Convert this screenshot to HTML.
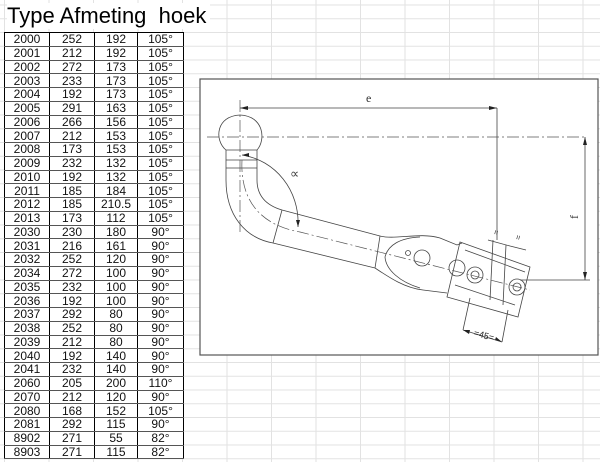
<!DOCTYPE html>
<html><head><style>
body{margin:0;width:600px;height:462px;overflow:hidden;background:#fff;font-family:"Liberation Sans",sans-serif;position:relative}
.grid{position:absolute;left:0;top:0;width:600px;height:462px;
background-image:linear-gradient(to right,#e2e2e2 1px,transparent 1px),linear-gradient(to bottom,#e2e2e2 1px,transparent 1px);
background-size:44.5px 13.75px;background-position:4px 4.5px}
h1{position:absolute;left:7px;top:3px;margin:0;font-weight:normal;font-size:22px;white-space:pre;background:#fff;padding-right:4px}
table{position:absolute;left:4px;top:32px;border-collapse:collapse;background:#fff;border:1.5px solid #000}
td{height:12.75px;padding:0;font-size:12px;text-align:center;border-bottom:1px solid #555;line-height:12px;color:#111}
td:nth-child(1){width:44px;border-right:1.5px solid #000}
td:nth-child(2){width:44px;border-right:1.5px solid #000}
td:nth-child(3){width:42px;border-right:1.5px solid #000}
td:nth-child(4){width:45px}
svg{position:absolute;left:0;top:0}
</style></head><body>
<div class="grid"></div>
<h1>Type Afmeting  hoek</h1>
<table>
<tr><td>2000</td><td>252</td><td>192</td><td>105°</td></tr>
<tr><td>2001</td><td>212</td><td>192</td><td>105°</td></tr>
<tr><td>2002</td><td>272</td><td>173</td><td>105°</td></tr>
<tr><td>2003</td><td>233</td><td>173</td><td>105°</td></tr>
<tr><td>2004</td><td>192</td><td>173</td><td>105°</td></tr>
<tr><td>2005</td><td>291</td><td>163</td><td>105°</td></tr>
<tr><td>2006</td><td>266</td><td>156</td><td>105°</td></tr>
<tr><td>2007</td><td>212</td><td>153</td><td>105°</td></tr>
<tr><td>2008</td><td>173</td><td>153</td><td>105°</td></tr>
<tr><td>2009</td><td>232</td><td>132</td><td>105°</td></tr>
<tr><td>2010</td><td>192</td><td>132</td><td>105°</td></tr>
<tr><td>2011</td><td>185</td><td>184</td><td>105°</td></tr>
<tr><td>2012</td><td>185</td><td>210.5</td><td>105°</td></tr>
<tr><td>2013</td><td>173</td><td>112</td><td>105°</td></tr>
<tr><td>2030</td><td>230</td><td>180</td><td>90°</td></tr>
<tr><td>2031</td><td>216</td><td>161</td><td>90°</td></tr>
<tr><td>2032</td><td>252</td><td>120</td><td>90°</td></tr>
<tr><td>2034</td><td>272</td><td>100</td><td>90°</td></tr>
<tr><td>2035</td><td>232</td><td>100</td><td>90°</td></tr>
<tr><td>2036</td><td>192</td><td>100</td><td>90°</td></tr>
<tr><td>2037</td><td>292</td><td>80</td><td>90°</td></tr>
<tr><td>2038</td><td>252</td><td>80</td><td>90°</td></tr>
<tr><td>2039</td><td>212</td><td>80</td><td>90°</td></tr>
<tr><td>2040</td><td>192</td><td>140</td><td>90°</td></tr>
<tr><td>2041</td><td>232</td><td>140</td><td>90°</td></tr>
<tr><td>2060</td><td>205</td><td>200</td><td>110°</td></tr>
<tr><td>2070</td><td>212</td><td>120</td><td>90°</td></tr>
<tr><td>2080</td><td>168</td><td>152</td><td>105°</td></tr>
<tr><td>2081</td><td>292</td><td>115</td><td>90°</td></tr>
<tr><td>8902</td><td>271</td><td>55</td><td>82°</td></tr>
<tr><td>8903</td><td>271</td><td>115</td><td>82°</td></tr>
</table>
<svg width="600" height="462" viewBox="0 0 600 462">
<rect x="200" y="79" width="398" height="276" fill="#fff" stroke="#555" stroke-width="1.2"/>
<g fill="none" stroke="#444" stroke-width="0.8">
<path d="M226,150 C214,140 216,116 240,115 C264,116 266,140 257,150 Z"/>
<path d="M226,150 L226,180 M257,150 L257,180 M226,160 L257,160 M226,168 L257,168"/>
<path d="M226,180 C226,215 245,238 273,243 L375,268"/>
<path d="M257,180 C257,195 265,205 282,210 L380,236"/>
<path d="M273,243 L282,210 M375,268 L380,236"/>
<path d="M380,236 C395,240 420,232 440,238 L457,245 L462,243 M375,268 C390,278 405,288 423,290 L447,293"/>
<path d="M385,257 C388,245 400,238 420,237 M385,257 C386,270 400,282 420,288"/>
<circle cx="422" cy="258" r="8"/><circle cx="408" cy="253" r="2.5"/>
<circle cx="457" cy="268" r="8"/>
<path d="M460,242 L530,267 L518,317 L447,297 Z"/>
<path d="M465,250 L525,272 M455,285 L515,305"/>
<circle cx="475" cy="275" r="8"/><circle cx="475" cy="275" r="4"/>
<circle cx="517" cy="287" r="8"/><circle cx="517" cy="287" r="4"/>
<path d="M493,240 L490,300 M506,245 L503,305"/>
<path d="M240,108 L497,108 M497,108 L497,240"/>
<path d="M585,137 L585,280 M520,280 L590,280"/>
<path d="M242,155 C275,160 300,190 298,227"/>
<path d="M463,330 L502,342 M463,330 L470,298 M502,342 L508,310"/>
<path d="M488,240 L510,246 M510,246 L526,250"/>
</g>
<g fill="none" stroke="#555" stroke-width="0.7" stroke-dasharray="12,3,2,3">
<path d="M207,137 L585,137"/>
<path d="M240,100 L240,235"/>
<path d="M242,160 C240,200 260,225 300,232 L530,290"/>
</g>
<g fill="#222">
<path d="M240,108 l8,-2 v4z M497,108 l-8,-2 v4z M585,137 l-2,8 h4z M585,280 l-2,-8 h4z M298,227 l-2,-7 h4z M242,155 l7,-2 v4z M463,330 l7,0 l-1,4z M502,342 l-7,-2 l1,-3z"/>
</g>
<text x="366" y="102" font-family="Liberation Serif" font-size="12" fill="#333">e</text>
<text x="571" y="218" font-family="Liberation Serif" font-size="12" fill="#333" transform="rotate(-90 575 215)">f</text>
<text x="290" y="178" font-family="Liberation Serif" font-size="13" fill="#444">∝</text>
<text x="474" y="338" font-size="9" fill="#222" transform="rotate(15 483 334)">=45=</text>
<text x="494" y="234" font-size="8" fill="#222" transform="rotate(-75 497 232)">=</text>
<text x="516" y="239" font-size="8" fill="#222" transform="rotate(-75 519 237)">=</text>
</svg>
</body></html>
